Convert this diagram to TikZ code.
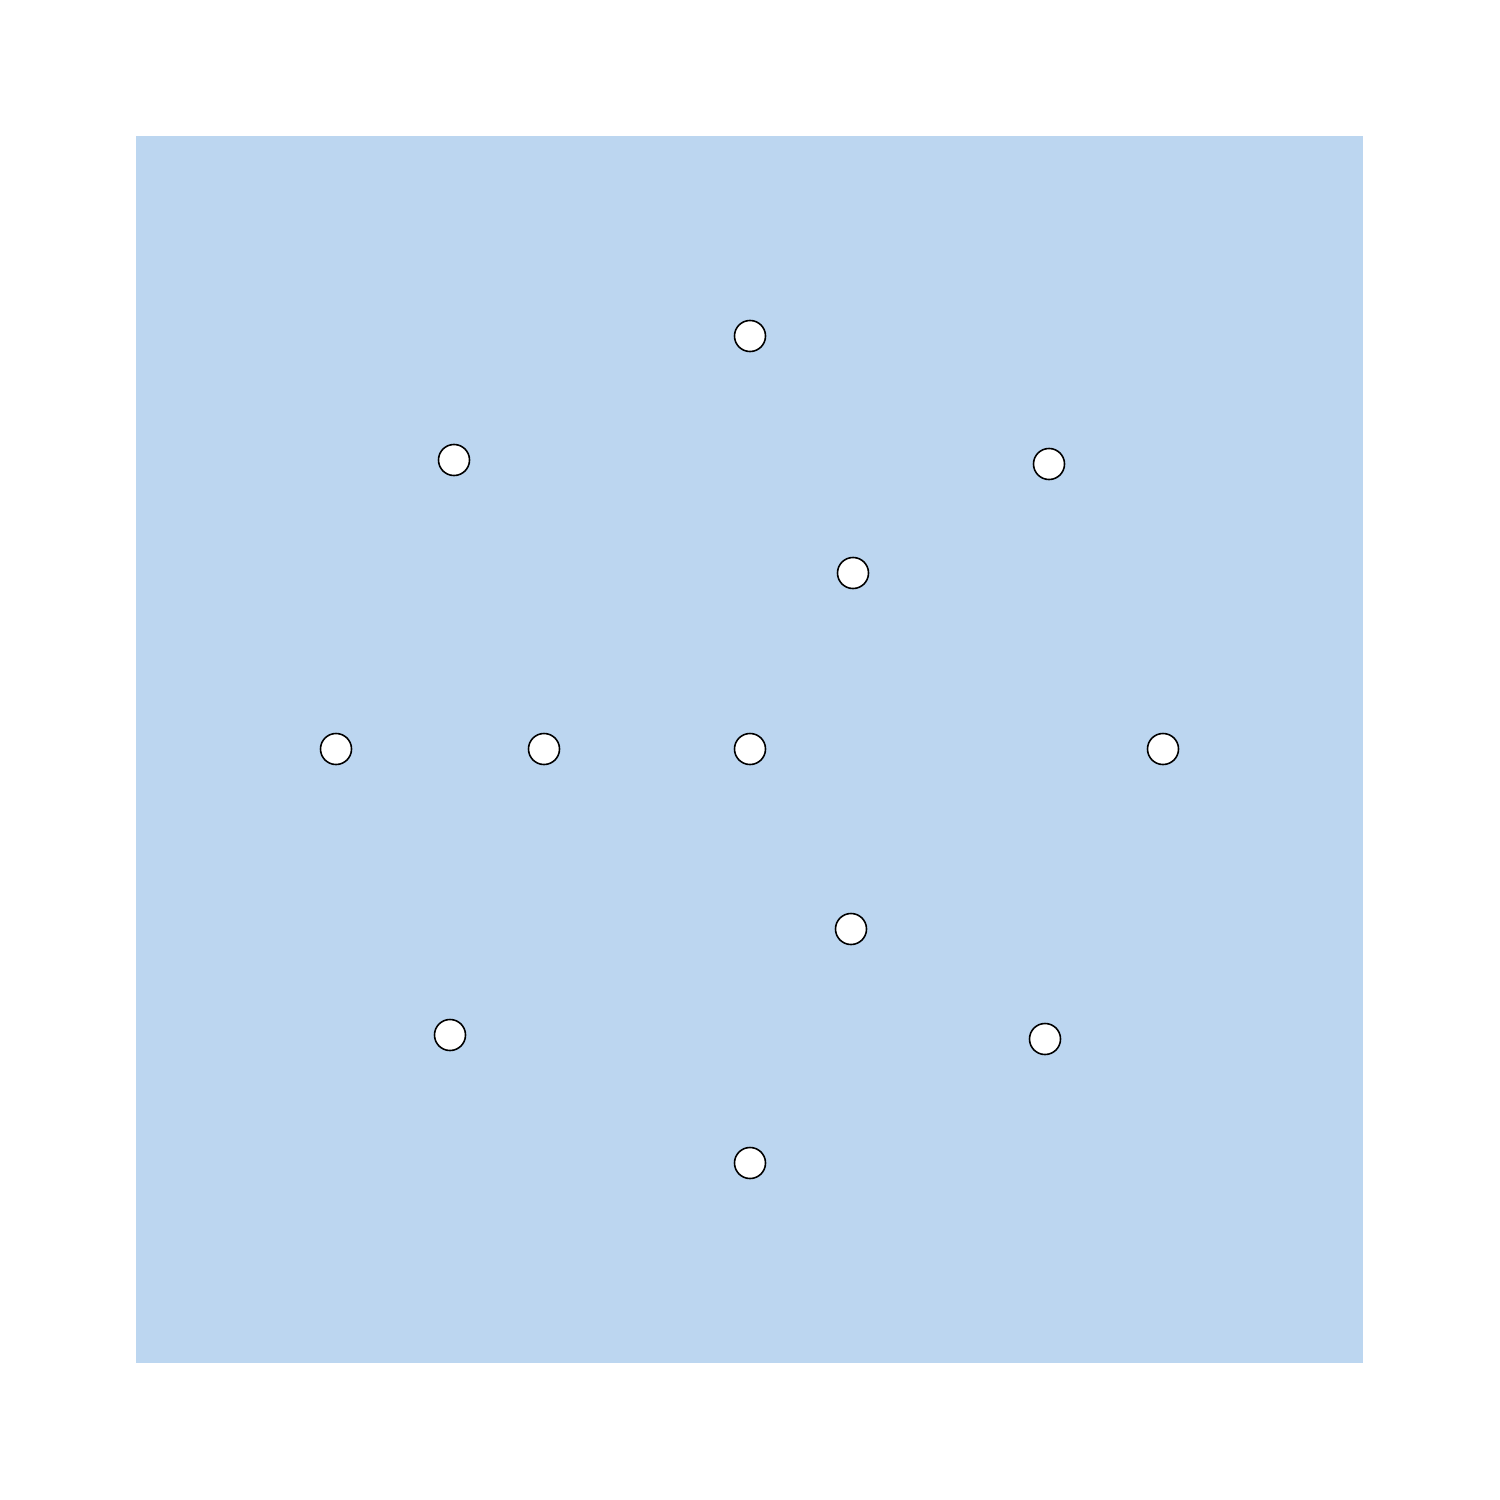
\documentclass[tikz,border=0pt]{standalone}
\definecolor{bgblue}{HTML}{BCD6F0}
\begin{document}
\begin{tikzpicture}[x=0.01cm,y=-0.01cm,
  dot/.style={circle,draw=black,fill=white,line width=0.45pt,minimum size=0.31cm,inner sep=0pt}]
\useasboundingbox (0,0) rectangle (1500,1500);
\fill[bgblue] (136,136) rectangle (1363,1363);
\node[dot] (n1) at (750,336) {};
\node[dot] (n2) at (454,460) {};
\node[dot] (n3) at (1049,464) {};
\node[dot] (n4) at (853,573) {};
\node[dot] (n5) at (336,749) {};
\node[dot] (n6) at (544,749) {};
\node[dot] (n7) at (750,749) {};
\node[dot] (n8) at (1163,749) {};
\node[dot] (n9) at (851,929) {};
\node[dot] (n10) at (450,1035) {};
\node[dot] (n11) at (1045,1039) {};
\node[dot] (n12) at (750,1163) {};
\end{tikzpicture}
\end{document}
